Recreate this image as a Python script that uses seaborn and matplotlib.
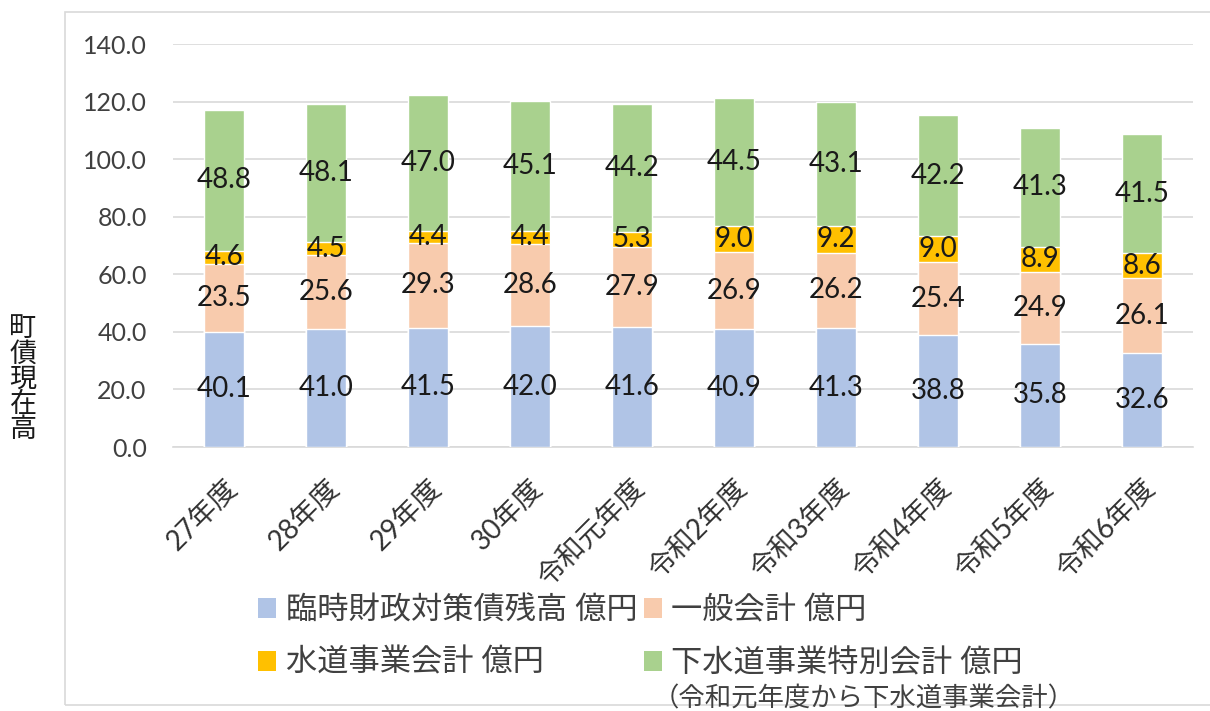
import seaborn as sns
import matplotlib.pyplot as plt
import pandas as pd
import numpy as np
from matplotlib.patches import Patch, Rectangle

years = ['27年度', '28年度', '29年度', '30年度', '令和元年度',
         '令和2年度', '令和3年度', '令和4年度', '令和5年度', '令和6年度']
rinji = [40.1, 41.0, 41.5, 42.0, 41.6, 40.9, 41.3, 38.8, 35.8, 32.6]
ippan = [23.5, 25.6, 29.3, 28.6, 27.9, 26.9, 26.2, 25.4, 24.9, 26.1]
suido = [4.6, 4.5, 4.4, 4.4, 5.3, 9.0, 9.2, 9.0, 8.9, 8.6]
gesui = [48.8, 48.1, 47.0, 45.1, 44.2, 44.5, 43.1, 42.2, 41.3, 41.5]

names = ['臨時財政対策債残高 億円', '一般会計 億円', '水道事業会計 億円', '下水道事業特別会計 億円']
colors = ['#b0c4e6', '#f8cbad', '#ffc000', '#a9d18e']

sns.set_style('white')
plt.rcParams['font.family'] = ['Lato', 'Noto Sans CJK JP', 'DejaVu Sans']

df = pd.DataFrame({'year': years, 'rinji': rinji, 'ippan': ippan,
                   'suido': suido, 'gesui': gesui})
series = ['rinji', 'ippan', 'suido', 'gesui']
cum = df[series].cumsum(axis=1)

fig = plt.figure(figsize=(12.1, 7.11), dpi=100)
ax = fig.add_axes([0.143, 0.3713, 0.843, 0.5668])

# stacked bars: draw cumulative totals from the top layer down
for s, c in reversed(list(zip(series, colors))):
    sns.barplot(x=df['year'], y=cum[s], color=c, width=0.4, saturation=1,
                ax=ax, zorder=3)

# segment labels
for i in range(len(df)):
    bottom = 0
    for s in series:
        v = df.loc[i, s]
        ax.text(i, bottom + v / 2, f'{v:.1f}', ha='center', va='center',
                fontsize=20, color='#1a1a1a', zorder=4)
        bottom += v

ax.set_ylim(0, 140)
ax.set_xlim(-0.5, len(df) - 0.5)
ax.set_yticks(np.arange(0, 141, 20))
ax.set_yticklabels([f'{v:.1f}' for v in np.arange(0, 141, 20)])
ax.yaxis.grid(True, color='#d9d9d9', lw=1.2, zorder=0)
ax.set_axisbelow(True)
for sp in ['top', 'right', 'left']:
    ax.spines[sp].set_visible(False)
ax.spines['bottom'].set_color('#d9d9d9')
ax.spines['bottom'].set_linewidth(1.2)
ax.tick_params(axis='y', length=0, pad=19, labelsize=18, labelcolor='#404040')
ax.tick_params(axis='x', length=0, pad=20, labelsize=20, labelcolor='#333333')
plt.setp(ax.get_xticklabels(), rotation=45, ha='right', rotation_mode='anchor')
ax.set_xlabel('')
ax.set_ylabel('')

# vertical y label
fig.text(23 / 1210, 1 - 379 / 711, '\n'.join('町債現在高'), ha='center', va='center',
         fontsize=19.5, linespacing=1.0, color='#1a1a1a')

# legend
handles = [Patch(facecolor=c, edgecolor='none') for c in colors]
order = [0, 2, 1, 3]
leg = fig.legend([handles[k] for k in order], [names[k] for k in order],
                 ncol=2, loc='upper left', bbox_to_anchor=(258 / 1210, 1 - 595 / 711),
                 bbox_transform=fig.transFigure, frameon=False, fontsize=22.5,
                 handlelength=0.58, handleheight=0.58, handletextpad=0.3,
                 columnspacing=0.2, labelspacing=0.75, borderpad=0, borderaxespad=0,
                 labelcolor='#404040')

fig.text(864 / 1210, 1 - 699 / 711, '（令和元年度から下水道事業会計）', ha='center', va='center',
         fontsize=19, color='#404040')

# outer chart frame
fig.patches.append(Rectangle((65 / 1210, 1 - 705 / 711), 1.1, 693 / 711,
                             transform=fig.transFigure, fill=False,
                             edgecolor='#d9d9d9', lw=1.2, zorder=0))

fig.savefig('out.png', dpi=100)
